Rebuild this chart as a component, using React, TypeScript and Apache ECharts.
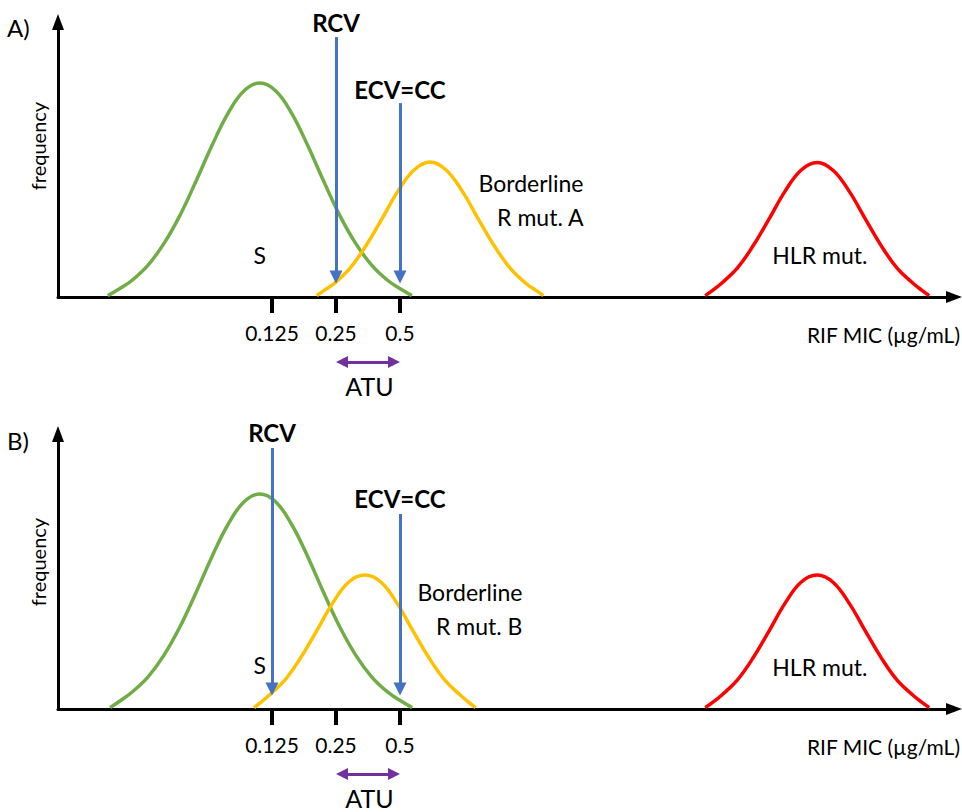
import React, { useEffect, useRef } from "react";
import * as echarts from "echarts";

// x values are log2(MIC), y values are relative frequency (0-100)
const tickMIC = [0.125, 0.25, 0.5];
const tickLabels = ["0.125", "0.25", "0.5"];
const rcvMIC = [0.25, 0.125]; // panel A, panel B
const ecvMIC = [0.5, 0.5];
const atuMIC = [0.25, 0.5];

const greenA: number[][] = [
  [-5.565, 0.5], [-5.39, 2.9], [-5.19, 6.0], [-4.94, 11.5], [-4.69, 19.4], [-4.44, 29.6],
  [-4.19, 42.0], [-3.94, 55.0], [-3.69, 66.7], [-3.44, 74.9], [-3.19, 77.8], [-2.94, 74.9],
  [-2.69, 66.7], [-2.44, 55.0], [-2.19, 42.0], [-1.94, 29.6], [-1.69, 19.4], [-1.44, 11.5],
  [-1.19, 6.0], [-0.99, 2.9], [-0.815, 0.5],
];
const yellowA: number[][] = [
  [-2.30, 0.5], [-2.18, 2.5], [-2.03, 4.9], [-1.78, 10.5], [-1.53, 18.7], [-1.28, 28.5],
  [-1.03, 38.6], [-0.78, 46.2], [-0.53, 49.1], [-0.28, 46.2], [-0.03, 38.6], [0.22, 28.5],
  [0.47, 18.7], [0.72, 10.5], [0.97, 4.9], [1.12, 2.5], [1.24, 0.5],
];
const redA: number[][] = [
  [3.77, 0.5], [3.89, 2.5], [4.02, 4.9], [4.27, 10.5], [4.52, 18.7], [4.77, 28.5],
  [5.02, 38.6], [5.27, 46.2], [5.52, 48.9], [5.77, 46.0], [6.02, 38.4], [6.27, 28.4],
  [6.52, 18.6], [6.77, 10.4], [7.02, 4.9], [7.15, 2.5], [7.27, 0.5],
];
const greenB: number[][] = [
  [-5.53, 0.5], [-5.37, 3.0], [-5.19, 6.1], [-4.94, 11.6], [-4.69, 19.5], [-4.44, 29.8],
  [-4.19, 42.2], [-3.94, 55.3], [-3.69, 67.0], [-3.44, 75.3], [-3.19, 78.2], [-2.94, 75.3],
  [-2.69, 67.0], [-2.44, 55.3], [-2.19, 42.2], [-1.94, 29.8], [-1.69, 19.5], [-1.44, 11.6],
  [-1.19, 6.1], [-0.99, 3.0], [-0.81, 0.5],
];
const yellowB: number[][] = [
  [-3.28, 0.5], [-3.17, 2.5], [-3.05, 4.9], [-2.80, 10.5], [-2.55, 18.7], [-2.30, 28.5],
  [-2.05, 38.6], [-1.80, 46.2], [-1.55, 48.7], [-1.30, 46.2], [-1.05, 38.6], [-0.80, 28.5],
  [-0.55, 18.7], [-0.30, 10.5], [-0.05, 4.9], [0.07, 2.5], [0.18, 0.5],
];
const redB: number[][] = [
  [3.77, 0.5], [3.89, 2.5], [4.02, 4.9], [4.27, 10.5], [4.52, 18.7], [4.77, 28.5],
  [5.02, 38.6], [5.27, 46.2], [5.52, 48.7], [5.77, 46.0], [6.02, 38.4], [6.27, 28.4],
  [6.52, 18.6], [6.77, 10.4], [7.02, 4.9], [7.15, 2.5], [7.27, 0.5],
];

const FONT = "Lato, 'Open Sans', sans-serif";
const GREEN = "#70AD47";
const YELLOW = "#FFC000";
const RED = "#FF0000";
const BLUE = "#4472C4";
const PURPLE = "#7030A0";

const X_MIN = -6.34375;
const X_MAX = 7.65625;
const GRID_W = 896;
const GRID_H = 275;
const PX_X = GRID_W / (X_MAX - X_MIN);
const PX_Y = GRID_H / 100;
const HEAD = 12;

const tickLog = tickMIC.map((v) => Math.log2(v));

function buildPanel(idx: number, curves: number[][][], labels: any[]) {
  const colors = [GREEN, YELLOW, RED];
  const rcv = Math.log2(rcvMIC[idx]);
  const ecv = Math.log2(ecvMIC[idx]);
  const tip = 5.1;
  const endY = tip + HEAD / 2 / PX_Y;
  const atuY = -23.6;
  const a0 = Math.log2(atuMIC[0]) + HEAD / 2 / PX_X;
  const a1 = Math.log2(atuMIC[1]) - HEAD / 2 / PX_X;
  const rcvTop = idx === 0 ? 94.5 : 94.9;
  const ecvTop = idx === 0 ? 70.5 : 70.9;
  const series: any[] = curves.map((c, i) => ({
    type: "line",
    xAxisIndex: idx,
    yAxisIndex: idx,
    data: c,
    smooth: 0.4,
    symbol: "none",
    lineStyle: { color: colors[i], width: 3.5 },
    z: 2 + i,
    silent: true,
  }));
  series.push({
    type: "lines",
    coordinateSystem: "cartesian2d",
    xAxisIndex: idx,
    yAxisIndex: idx,
    symbol: ["none", "triangle"],
    symbolSize: HEAD + 1,
    lineStyle: { color: BLUE, width: 3, opacity: 1 },
    data: [
      { coords: [[rcv, rcvTop], [rcv, endY]] },
      { coords: [[ecv, ecvTop], [ecv, endY]] },
    ],
    clip: false,
    z: 10,
    silent: true,
  });
  series.push({
    type: "lines",
    coordinateSystem: "cartesian2d",
    xAxisIndex: idx,
    yAxisIndex: idx,
    symbol: ["triangle", "triangle"],
    symbolSize: HEAD,
    lineStyle: { color: PURPLE, width: 3, opacity: 1 },
    data: [{ coords: [[a0, atuY], [a1, atuY]] }],
    clip: false,
    z: 10,
    silent: true,
  });
  series.push({
    type: "scatter",
    xAxisIndex: idx,
    yAxisIndex: idx,
    symbolSize: 1,
    itemStyle: { color: "rgba(0,0,0,0)", opacity: 1 },
    clip: false,
    silent: true,
    z: 20,
    label: {
      show: true,
      position: "inside",
      formatter: "{b}",
      color: "#000",
      opacity: 1,
      textBorderWidth: 0,
      fontFamily: FONT,
      fontSize: 23,
    },
    data: labels,
  });
  return series;
}

const labelsA = [
  { name: "RCV", value: [-2, 100], label: { fontWeight: "bold", fontSize: 24 } },
  { name: "ECV=CC", value: [-1, 75.6], label: { fontWeight: "bold", fontSize: 24 } },
  { name: "S", value: [-3.19, 15.3] },
  { name: "Borderline\nR mut. A", value: [1.875, 35.3], label: { position: "left", distance: 0, align: "right", lineHeight: 34 } },
  { name: "HLR mut.", value: [5.56, 15.3] },
  { name: "ATU", value: [-1.477, -32.4], label: { fontSize: 25 } },
];
const labelsB = [
  { name: "RCV", value: [-3, 100.5], label: { fontWeight: "bold", fontSize: 24 } },
  { name: "ECV=CC", value: [-1, 76.4], label: { fontWeight: "bold", fontSize: 24 } },
  { name: "S", value: [-3.19, 16.0] },
  { name: "Borderline\nR mut. B", value: [0.92, 36.4], label: { position: "left", distance: 0, align: "right", lineHeight: 34 } },
  { name: "HLR mut.", value: [5.56, 15.3] },
  { name: "ATU", value: [-1.477, -32.4], label: { fontSize: 25 } },
];

function xAxisFor(idx: number) {
  return {
    gridIndex: idx,
    type: "value",
    min: X_MIN,
    max: X_MAX,
    name: "RIF MIC (µg/mL)",
    nameLocation: "end",
    nameGap: 6,
    nameTextStyle: {
      align: "right",
      verticalAlign: "top",
      padding: [27, 0, 0, 0],
      fontSize: 21,
      fontFamily: FONT,
      color: "#000",
    },
    axisLine: {
      show: true,
      onZero: false,
      symbol: ["none", "triangle"],
      symbolSize: [12, 16],
      lineStyle: { color: "#000", width: 3 },
    },
    axisTick: {
      show: true,
      customValues: tickLog,
      length: 16,
      lineStyle: { color: "#000", width: 4 },
    },
    axisLabel: {
      show: true,
      customValues: tickLog,
      formatter: (v: number) => {
        const i = tickLog.findIndex((t) => Math.abs(t - v) < 1e-6);
        return i >= 0 ? tickLabels[i] : "";
      },
      margin: 25,
      fontSize: 21,
      fontFamily: FONT,
      color: "#000",
    },
    splitLine: { show: false },
  };
}

function yAxisFor(idx: number) {
  return {
    gridIndex: idx,
    type: "value",
    min: 0,
    max: 100,
    axisLine: {
      show: true,
      onZero: false,
      symbol: ["none", "triangle"],
      symbolSize: [12, 16],
      lineStyle: { color: "#000", width: 3 },
    },
    axisTick: { show: false },
    axisLabel: { show: false },
    splitLine: { show: false },
  };
}

export default function App() {
  const ref = useRef<HTMLDivElement>(null);
  useEffect(() => {
    if (!ref.current) return;
    const chart = echarts.init(ref.current, undefined, { renderer: "svg" });
    const option: any = {
      animation: false,
      backgroundColor: "#fff",
      grid: [
        { left: 58, top: 22, width: GRID_W, height: GRID_H },
        { left: 58, top: 434, width: GRID_W, height: GRID_H },
      ],
      xAxis: [xAxisFor(0), xAxisFor(1)],
      yAxis: [yAxisFor(0), yAxisFor(1)],
      graphic: [
        { type: "text", left: 7, top: 15, style: { text: "A)", fontSize: 24, fontFamily: FONT, fill: "#000" } },
        { type: "text", left: 7, top: 428, style: { text: "B)", fontSize: 24, fontFamily: FONT, fill: "#000" } },
        { type: "text", x: 38, y: 146, rotation: Math.PI / 2, style: { text: "frequency", fontSize: 20, fontFamily: FONT, fill: "#000", align: "center", verticalAlign: "middle" } },
        { type: "text", x: 38, y: 562, rotation: Math.PI / 2, style: { text: "frequency", fontSize: 20, fontFamily: FONT, fill: "#000", align: "center", verticalAlign: "middle" } },
      ],
      series: [
        ...buildPanel(0, [greenA, yellowA, redA], labelsA),
        ...buildPanel(1, [greenB, yellowB, redB], labelsB),
      ],
    };
    chart.setOption(option);
    return () => chart.dispose();
  }, []);
  return (
    <div
      ref={ref}
      style={{ position: "fixed", left: 0, top: 0, width: 962, height: 812, background: "#fff" }}
    />
  );
}
